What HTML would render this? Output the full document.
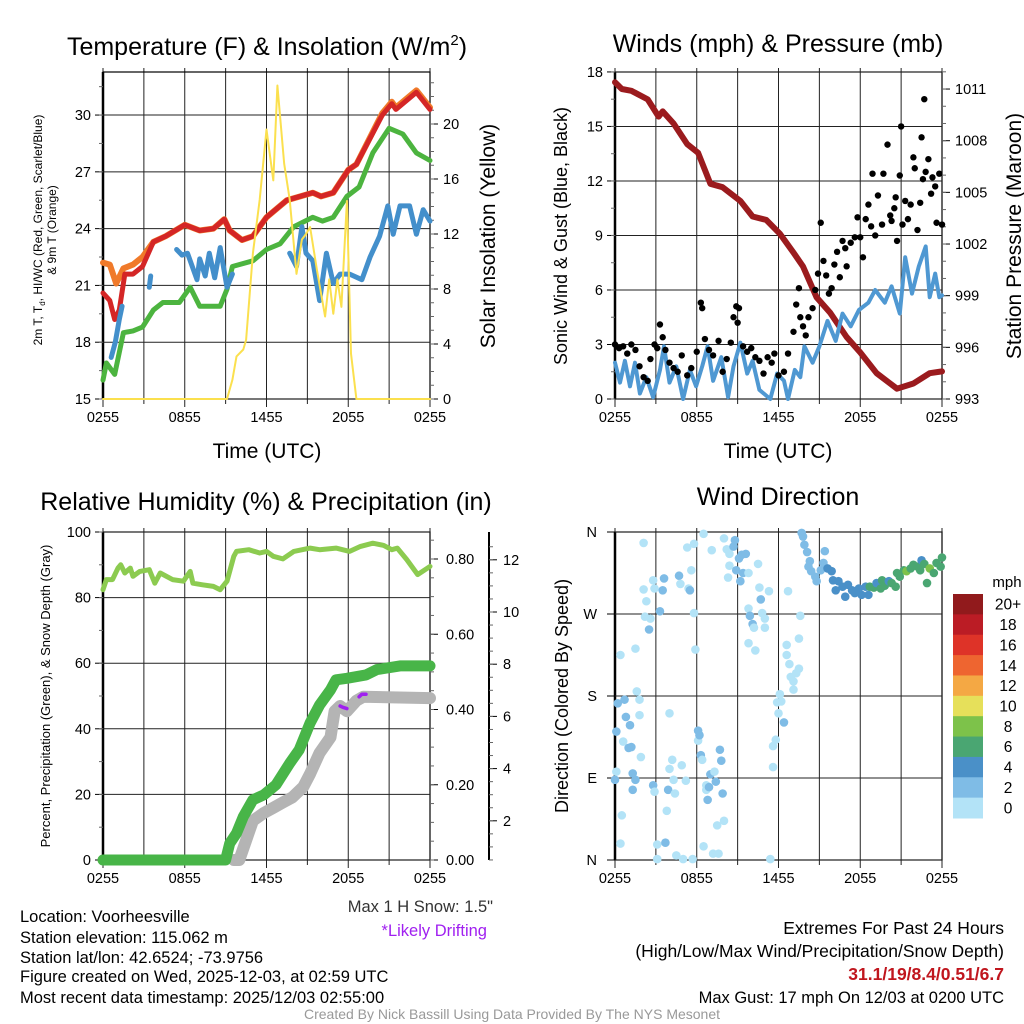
<!DOCTYPE html>
<html><head><meta charset="utf-8"><style>
html,body{margin:0;padding:0;background:#fff;}
svg{display:block;font-family:"Liberation Sans",Arial,sans-serif;}
</style></head><body>
<svg id="fig" width="1024" height="1024" viewBox="0 0 1024 1024" xmlns="http://www.w3.org/2000/svg">
<rect width="1024" height="1024" fill="#fff"/>
<g id="axes"></g>
<g id="marks"></g>
<g id="labels" font-size="13" fill="#000">
<text x="267" y="55" font-size="25" text-anchor="middle">Temperature (F) &amp; Insolation (W/m<tspan font-size="15" dy="-10">2</tspan><tspan dy="10">)</tspan></text>
<text x="778" y="52" font-size="25" text-anchor="middle">Winds (mph) &amp; Pressure (mb)</text>
<text x="266" y="510" font-size="25" text-anchor="middle">Relative Humidity (%) &amp; Precipitation (in)</text>
<text x="778" y="505" font-size="25" text-anchor="middle">Wind Direction</text>
<text transform="translate(42,230) rotate(-90)" font-size="12" text-anchor="middle">2m T, T<tspan font-size="8" dy="3">d</tspan><tspan dy="-3">, HI/WC (Red, Green, Scarlet/Blue)</tspan></text>
<text transform="translate(56,230) rotate(-90)" font-size="12" text-anchor="middle">&amp; 9m T (Orange)</text>
<text transform="translate(495,236) rotate(-90)" font-size="21" text-anchor="middle">Solar Insolation (Yellow)</text>
<text transform="translate(567,236) rotate(-90)" font-size="18" text-anchor="middle">Sonic Wind &amp; Gust (Blue, Black)</text>
<text transform="translate(1021,236) rotate(-90)" font-size="21" text-anchor="middle">Station Pressure (Maroon)</text>
<text transform="translate(50,696) rotate(-90)" font-size="13" text-anchor="middle">Percent, Precipitation (Green), &amp; Snow Depth (Gray)</text>
<text transform="translate(568,696) rotate(-90)" font-size="18" text-anchor="middle">Direction (Colored By Speed)</text>
<text x="267" y="458" font-size="21" text-anchor="middle">Time (UTC)</text>
<text x="778" y="458" font-size="21" text-anchor="middle">Time (UTC)</text>
<text x="1007" y="587" font-size="15" text-anchor="middle">mph</text>
<g font-size="16.5">
<text x="493" y="912" text-anchor="end" fill="#333">Max 1 H Snow: 1.5"</text>
<text x="487" y="936" text-anchor="end" fill="#a020f0">*Likely Drifting</text>
<text x="20" y="922">Location: Voorheesville</text>
<text x="20" y="943">Station elevation: 115.062 m</text>
<text x="20" y="963">Station lat/lon: 42.6524; -73.9756</text>
<text x="20" y="982">Figure created on Wed, 2025-12-03, at 02:59 UTC</text>
<text x="20" y="1003">Most recent data timestamp: 2025/12/03 02:55:00</text>
<text x="1004" y="934" text-anchor="end" font-size="17.5">Extremes For Past 24 Hours</text>
<text x="1004" y="957" text-anchor="end" font-size="17.5">(High/Low/Max Wind/Precipitation/Snow Depth)</text>
<text x="1004" y="980" text-anchor="end" fill="#c0161e" font-weight="bold" font-size="17.5">31.1/19/8.4/0.51/6.7</text>
<text x="1004" y="1003" text-anchor="end">Max Gust: 17 mph On 12/03 at 0200 UTC</text>
</g>
<text x="512" y="1019" font-size="14" text-anchor="middle" fill="#999">Created By Nick Bassill Using Data Provided By The NYS Mesonet</text>
</g>
</svg>
<script>
// ---------- data (t = hours since 02:55 UTC) ----------
const xTickLabels = ["0255","0855","1455","2055","0255"];
const tempTicks = [15,18,21,24,27,30];
const solTicks = [0,4,8,12,16,20];
const windTicks = [0,3,6,9,12,15,18];
const presTicks = [993,996,999,1002,1005,1008,1011];
const rhTicks = [0,20,40,60,80,100];
const precipTicks = [0,0.2,0.4,0.6,0.8];
const precipTickLabels = ["0.00","0.20","0.40","0.60","0.80"];
const snowTicks = [2,4,6,8,10,12];
const dirTickLabels = ["N","E","S","W","N"];
const dirTicks = [0,90,180,270,360];
const legendLabels = ["20+","18","16","14","12","10","8","6","4","2","0"];
const legendColors = ["#911a1c","#bb1c25","#de3328","#ee6530","#f4a844","#e6e05a","#7dc24a","#4aa672","#4a90c8","#7fbce6","#b3e3f7"];

const tempT = [0,0.5,0.86,1.2,1.6,2.2,2.9,3.7,4.6,6.0,7.1,8.1,8.9,9.3,10.2,11.0,12.0,13.5,15.4,16.0,16.9,18.0,18.6,20.5,21.2,21.5,23.0,24];
const tempV = [20.6,20.2,19.2,19.7,21.6,21.6,22.0,23.3,23.6,24.2,23.9,24.0,24.5,23.9,23.4,23.6,24.6,25.5,25.9,25.7,25.9,27.1,27.4,30.0,30.6,30.3,31.2,30.3];
const t9T = [0,0.5,0.97,1.5,2.2,2.9,3.7,4.6,6.0,7.1,8.1,8.9,9.3,10.2,11.0,12.0,13.5,15.4,16.0,16.9,18.0,18.6,20.5,21.2,21.5,23.0,24];
const t9V = [22.2,22.1,21.1,21.9,22.1,22.5,23.3,23.6,24.2,23.9,24.0,24.5,23.9,23.4,23.6,24.6,25.5,25.9,25.7,25.9,27.1,27.4,30.1,30.7,30.4,31.3,30.4];
const dewT = [0,0.25,0.86,1.5,2.2,2.9,3.7,4.4,5.6,6.4,7.1,8.6,9.1,9.5,11.0,12.0,13.0,14.0,15.4,16.1,16.9,17.9,18.8,19.8,21.0,22.0,23.0,24];
const dewV = [16.0,16.9,16.3,18.5,18.6,18.8,19.7,20.1,20.1,20.9,19.9,19.9,20.8,22.0,22.3,22.9,23.2,24.1,24.6,24.4,24.6,25.7,26.2,28.0,29.3,29.0,28.0,27.6];
const wcT = [0.6,0.9,1.2,1.4,null,3.4,3.5,null,5.4,5.8,6.2,6.9,7.1,7.5,7.8,8.2,8.6,9.1,9.5,null,13.7,14.2,14.6,14.9,15.4,15.9,16.4,16.9,17.4,18.1,19.0,19.6,20.3,20.9,21.3,21.8,22.5,23.0,23.5,24];
const wcV = [17.2,18.0,19.2,19.9,null,20.9,21.5,null,22.9,22.6,22.7,21.3,22.4,21.5,22.7,21.4,23.0,20.9,21.6,null,22.7,22.0,24.1,22.7,22.3,20.2,22.7,21.1,21.6,21.6,21.3,22.5,23.6,25.2,23.7,25.2,25.2,23.7,25.0,24.4];
const solT = [0,9.1,9.5,9.8,10.3,10.5,11.0,11.5,12.0,12.5,12.8,13.3,13.7,14.2,14.6,14.9,15.2,15.7,16.3,16.6,16.9,17.2,17.5,17.9,18.2,18.6,24];
const solV = [0,0,1.4,3.1,3.6,4.3,10.6,14.5,19.6,15.9,22.8,17.1,14.5,9.1,11.6,12.0,12.5,9.4,6.0,8.7,6.2,8.7,6.7,14.4,3.3,0,0];

const presT = [0,0.5,1.2,2.4,3.2,3.5,4.3,5.3,6.1,7.0,7.9,9.2,10.1,11.1,12.1,13.1,13.8,14.8,15.8,17.0,18.0,19.2,20.7,21.9,23.1,24];
const presV = [1011.4,1011.0,1010.9,1010.4,1009.4,1009.7,1009.0,1007.8,1007.3,1005.5,1005.3,1004.5,1003.6,1003.4,1002.6,1001.5,1000.7,998.9,998.0,996.6,995.7,994.5,993.6,993.9,994.5,994.6];
const windT = [0,0.37,0.73,1.1,1.47,1.83,2.3,2.8,3.3,3.6,4.0,4.5,5.0,5.5,5.95,6.4,6.8,7.2,7.8,8.3,8.7,9.2,9.7,10.1,10.6,11.4,11.9,12.4,12.7,13.2,13.6,13.9,14.5,15.0,15.6,16.2,16.7,17.3,17.9,18.6,19.1,19.8,20.3,20.9,21.3,21.8,22.3,22.8,23.1,23.5,23.8,24];
const windV = [2.0,0.9,2.1,0.7,2.0,0.3,1.2,0.1,1.6,2.9,0.9,1.8,0,1.6,0.7,1.8,2.9,1.0,2.3,0.1,1.8,3.1,1.4,2.1,0.5,0,1.4,1.0,0,1.6,1.2,2.9,2.0,2.9,4.3,3.2,4.7,4.0,4.9,5.3,6.0,5.3,6.2,4.7,7.8,5.8,7.3,8.4,5.6,6.9,5.6,5.7];
const gustT = [0,0.3,0.6,0.9,1.2,1.5,1.8,2.1,2.4,2.6,2.9,3.1,3.3,3.5,3.7,4.0,4.3,4.6,4.9,5.3,5.6,6.0,6.3,6.4,6.6,6.9,7.2,7.6,7.9,8.2,8.5,8.7,8.9,9.0,9.1,9.4,9.7,10.0,10.3,10.6,10.9,11.2,11.5,11.7,12.0,12.4,12.7,13.1,13.3,13.5,13.6,13.8,14.0,14.2,14.5,14.7,14.9,15.1,15.3,15.5,15.7,15.9,16.1,16.3,16.5,16.7,16.9,17.0,17.3,17.6,17.8,18.0,18.2,18.4,18.6,18.8,18.9,19.1,19.3,19.6,19.7,20.0,20.2,20.3,20.5,20.6,20.7,20.9,21.0,21.1,21.3,21.5,21.7,21.9,22.0,22.2,22.4,22.5,22.6,22.7,22.8,23.0,23.2,23.3,23.5,23.6,23.8,24.0];
const gustV = [3.0,2.8,2.9,2.5,3.0,2.7,1.8,1.2,1.0,2.2,3.0,2.8,4.1,3.4,2.7,2.0,1.7,1.5,2.4,1.3,1.7,2.6,5.3,5.0,3.3,2.7,2.4,3.2,1.5,2.2,3.1,4.5,5.1,4.2,5.0,2.9,2.6,2.8,2.3,2.1,1.4,2.3,2.0,2.5,1.3,1.5,2.5,3.7,5.2,6.1,4.5,4.0,3.5,4.5,5.0,6.0,6.9,9.7,7.6,6.8,5.8,6.1,7.4,8.1,6.7,8.7,8.3,7.3,8.6,8.9,10.0,8.9,7.8,9.9,10.7,9.5,12.4,9.0,11.2,9.6,12.4,14.0,10.1,9.8,10.5,11.1,8.7,12.3,15.0,9.6,10.9,9.9,10.7,13.3,12.7,9.3,10.8,14.4,12.1,16.5,12.5,13.2,11.3,12.2,11.7,9.7,12.4,9.6];

const rhT = [0,0.25,0.7,1.1,1.3,1.6,2.0,2.2,2.7,3.4,3.8,4.2,5.1,5.9,6.4,6.6,7.3,8.1,8.6,9.1,9.6,9.8,10.7,11.5,12.0,12.5,13.2,14.0,15.2,15.9,17.1,18.1,18.9,19.8,20.6,21.2,21.6,22.3,23.1,24];
const rhV = [82.4,85.5,85.5,89.0,90.0,87.5,89.0,86.5,88.0,88.5,84.4,87.5,85.5,85.0,88.0,84.4,83.9,83.4,82.4,85.0,92.6,94.1,94.6,93.6,94.1,92.6,91.8,94.1,95.1,94.6,95.1,94.1,95.6,96.6,95.9,94.6,95.1,91.6,87.0,89.5];
const precipT = [0,9.0,9.3,9.8,10.3,11.0,11.8,12.7,13.7,14.4,15.2,15.9,16.7,17.1,17.9,19.3,20.1,21.8,24];
const precipV = [0,0,0.044,0.071,0.115,0.16,0.173,0.2,0.257,0.293,0.364,0.412,0.452,0.479,0.483,0.492,0.506,0.516,0.516];
const snowT = [9.6,10.0,10.5,11.0,11.8,12.5,13.2,13.9,14.7,15.2,15.9,16.7,17.0,17.4,17.9,18.6,19.1,24];
const snowV = [0.5,0.5,1.25,2.0,2.3,2.5,2.7,2.9,3.3,3.8,4.6,5.2,6.2,6.4,6.2,6.6,6.75,6.7];
const driftAT = [17.4,17.6,17.9];
const driftAV = [6.4,6.35,6.3];
const driftBT = [18.8,19.0,19.3];
const driftBV = [6.75,6.85,6.85];

const dirT = [2.1,0.4,0,0.1,0.1,0.2,0.7,0.5,0.4,0.8,1.1,0.6,1.0,1.2,1.3,1.5,1.3,1.6,1.8,1.8,1.5,1.9,2.1,2.3,2.2,2.6,2.5,2.8,2.9,3.3,3.6,3.5,2.8,2.9,3.1,3.1,3.7,3.8,3.9,4.0,4.0,4.2,4.3,4.4,4.5,4.7,4.8,4.9,5.0,5.2,5.3,5.4,5.5,5.6,5.8,5.8,5.9,5.7,6.1,6.1,6.2,6.3,6.4,6.5,6.5,6.7,6.7,6.8,6.9,7.0,7.1,7.2,7.3,7.4,7.5,7.6,7.7,7.8,7.9,8.0,8.0,8.2,8.3,8.4,8.4,8.7,8.8,8.9,9.1,9.2,9.3,9.4,9.6,9.8,9.8,9.9,10.1,10.2,9.8,10.3,10.5,10.6,10.7,10.8,11.0,11.0,11.3,11.4,11.6,11.6,11.8,11.9,12.0,12.1,12.2,12.4,12.6,12.6,12.7,12.8,12.9,13.1,13.1,13.3,13.5,13.5,13.6,13.7,13.8,13.9,14.1,14.3,14.2,14.4,14.7,14.8,15.1,15.3,15.4,15.6,15.9,16.0,16.2,16.4,16.7,16.9,17.1,17.4,17.6,17.9,18.1,18.4,18.6,18.7,19.0,19.2,19.5,19.6,19.8,20.1,20.3,20.6,20.7,20.9,21.2,21.4,21.7,21.9,22.2,22.4,22.5,22.7,22.9,23.1,23.4,23.6,23.9,24];
const dirV = [348,225,88,97,141,172,176,49,18,157,148,130,123,124,95,88,77,185,176,159,232,113,297,284,267,265,253,307,298,273,309,296,82,75,17,1,19,54,77,161,100,110,88,73,5,312,303,104,1,87,343,298,296,318,347,271,231,1,131,142,137,115,110,15,358,82,77,66,80,94,340,7,97,86,38,7,121,109,73,43,353,341,310,323,336,344,351,318,331,306,335,315,336,315,276,268,259,255,238,230,325,299,286,271,265,255,295,1,102,125,132,173,161,182,174,151,236,225,295,215,201,196,187,205,210,243,268,359,355,346,338,328,322,317,311,306,318,326,339,320,317,307,296,306,300,289,302,296,293,298,291,300,291,300,299,304,298,307,301,306,304,300,315,311,318,317,320,324,322,318,329,325,304,320,315,326,322,332];
const dirS = [1,1,3,1,3,3,3,1,1,3,3,1,3,3,3,3,3,1,1,1,1,1,1,1,1,1,3,1,1,3,3,3,3,1,1,1,3,1,3,1,1,1,1,1,1,3,1,1,1,1,1,1,3,1,1,1,1,1,1,3,3,3,1,1,1,1,1,3,3,3,1,1,1,3,1,1,3,3,3,1,1,1,1,1,1,3,3,3,3,3,3,3,3,1,1,3,3,1,1,1,1,1,3,1,1,1,1,1,1,1,1,1,1,1,1,3,1,1,1,1,1,1,1,1,1,1,1,3,3,3,3,3,3,3,3,3,3,3,3,5,5,5,5,5,5,5,5,5,5,5,5,5,5,7,7,5,7,7,7,5,7,7,7,7,7,9,7,7,7,7,5,7,7,9,7,7,7,7];

// ---------- helpers ----------
const NS = "http://www.w3.org/2000/svg";
const axesG = document.getElementById('axes');
const marksG = document.getElementById('marks');
function mk(tag, attrs, parent){const e=document.createElementNS(NS,tag);for(const k in attrs)e.setAttribute(k,attrs[k]);(parent||axesG).appendChild(e);return e;}
function linePath(T,V,fx,fy){let d="",pen=false;for(let i=0;i<T.length;i++){if(T[i]===null||V[i]===null){pen=false;continue;}d+=(pen?"L":"M")+fx(T[i]).toFixed(1)+","+fy(V[i]).toFixed(1);pen=true;}return d;}

function panelFrame(x0,x1,y0,y1,xLabels,name){
  for(let h=0;h<=24;h+=3){const x=x0+h/24*(x1-x0);
    const g=mk('line',{x1:x,x2:x,y1:y0-4,y2:y1+(h%6===0?8:5),stroke:'#222','stroke-width':1});
    
    
  }
  for(let i=0;i<xLabels.length;i++){const x=x0+i*6/24*(x1-x0);
    const t=mk('text',{x:x,y:y1+23,'font-size':14.5,'text-anchor':'middle'});t.textContent=xLabels[i];
    
    
  }
  const b=mk('rect',{x:x0,y:y0,width:x1-x0,height:y1-y0,fill:'none',stroke:'#000','stroke-width':1.2});
  
  
  const l=mk('line',{x1:x0,x2:x0,y1:y0,y2:y1,stroke:'#000','stroke-width':2.5});
  
  
}
function yAxis(ticks,labels,fy,x,side,x0,x1,grid,minorStep,lo,hi,name,lx){
  for(let i=0;i<ticks.length;i++){const y=fy(ticks[i]);
    if(grid){const g=mk('line',{x1:x0,x2:x1,y1:y,y2:y,stroke:'#222','stroke-width':1});
      
      }
    const tk=mk('line',{x1:x,x2:x+side*8,y1:y,y2:y,stroke:'#000','stroke-width':1});
    
    
    const t=mk('text',{x:lx,y:y+5,'font-size':14.5,'text-anchor':side<0?'end':'start'});t.textContent=labels[i];
    
    
  }
  if(minorStep){for(let v=lo;v<=hi+1e-9;v+=minorStep){const y=fy(v);
    const m=mk('line',{x1:x,x2:x+side*4,y1:y,y2:y,stroke:'#666','stroke-width':1});
    
    }}
}
function series(d,color,w,name,opts){
  const p=mk('path',Object.assign({d:d,fill:'none',stroke:color,'stroke-width':w,'stroke-linejoin':'round','stroke-linecap':'round'},opts||{}),marksG);
  
  
  return p;
}

// ---------- Panel 1 ----------
(function(){
  const x0=103,x1=430,y0=72,y1=399;
  const fx=t=>x0+t/24*(x1-x0);
  const fT=v=>399-(v-15)*18.93;
  const fS=v=>399-v*13.75;
  panelFrame(x0,x1,y0,y1,xTickLabels,'temp-panel');
  yAxis(tempTicks,tempTicks.map(String),fT,x0,-1,x0,x1,true,1.5,15,31.5,'temp-axis',x0-12);
  yAxis(solTicks,solTicks.map(String),fS,x1,1,x0,x1,false,1,0,23,'insolation-axis',x1+13);
  series(linePath(t9T,t9V,fx,fT),'#f07a2a',6,'9m-temp-line');
  series(linePath(tempT,tempV,fx,fT),'#d42626',5,'2m-temp-line');
  series(linePath(dewT,dewV,fx,fT),'#4cb43f',5,'dewpoint-line');
  series(linePath(wcT,wcV,fx,fT),'#438fcb',5,'windchill-line');
  series(linePath(solT,solV,fx,fS),'#fbe04e',2,'insolation-line');
})();

// ---------- Panel 2 ----------
(function(){
  const x0=615,x1=942,y0=72,y1=399;
  const fx=t=>x0+t/24*(x1-x0);
  const fW=v=>399-v*18.17;
  const fP=v=>399-(v-993)*17.22;
  panelFrame(x0,x1,y0,y1,xTickLabels,'wind-panel');
  yAxis(windTicks,windTicks.map(String),fW,x0,-1,x0,x1,true,1.5,0,18,'wind-axis',x0-12);
  yAxis(presTicks,presTicks.map(String),fP,x1,1,x0,x1,false,1,993,1012,'pressure-axis',x1+13);
  series(linePath(presT,presV,fx,fP),'#9b1b1e',6,'pressure-line');
  series(linePath(windT,windV,fx,fW),'#4f98d2',4,'wind-speed-line');
  for(let i=0;i<gustT.length;i++){
    const c=mk('circle',{cx:fx(gustT[i]),cy:fW(gustV[i]),r:3.2,fill:'#000'},marksG);
    
    
  }
})();

// ---------- Panel 3 ----------
(function(){
  const x0=103,x1=430,y0=532,y1=860;
  const fx=t=>x0+t/24*(x1-x0);
  const fR=v=>860-v*3.28;
  const fPr=v=>860-v*376.25;
  const fSn=v=>873-v*26.1;
  panelFrame(x0,x1,y0,y1,xTickLabels,'humidity-panel');
  yAxis(rhTicks,rhTicks.map(String),fR,x0,-1,x0,x1,true,10,0,100,'humidity-axis',x0-12);
  yAxis(precipTicks,precipTickLabels,fPr,x1,1,x0,x1,false,0.05,0,0.85,'precip-axis',x1+16);
  const sa=mk('line',{x1:489,x2:489,y1:y0,y2:y1,stroke:'#000','stroke-width':2});
  
  
  yAxis(snowTicks,snowTicks.map(String),fSn,489,1,0,0,false,0.5,0.5,12.5,'snow-axis',503);
  series(linePath(rhT,rhV,fx,fR),'#8ccb50',5,'humidity-line');
  series(linePath(snowT,snowV,fx,fSn),'#b4b4b4',12,'snow-depth-line');
  series(linePath(precipT,precipV,fx,fPr),'#48b548',11,'precip-line');
  series(linePath(driftAT,driftAV,fx,fSn),'#a020f0',3.5,'drift-segment-a');
  series(linePath(driftBT,driftBV,fx,fSn),'#a020f0',3.5,'drift-segment-b');
})();

// ---------- Panel 4 ----------
(function(){
  const x0=615,x1=942,y0=532,y1=860;
  const fx=t=>x0+t/24*(x1-x0);
  const fD=v=>860-v*328/360;
  panelFrame(x0,x1,y0,y1,xTickLabels,'direction-panel');
  yAxis(dirTicks,dirTickLabels,fD,x0,-1,x0,x1,true,0,0,0,'direction-axis',x0-18);
  for(let i=0;i<dirT.length;i++){
    const bin=Math.min(10,Math.floor(dirS[i]/2));
    const c=mk('circle',{cx:fx(dirT[i]),cy:fD(dirV[i]),r:4.3,fill:legendColors[10-bin]},marksG);
    
    
  }
  const bh=224/11;
  for(let i=0;i<legendColors.length;i++){
    const r=mk('rect',{x:953,y:594+i*bh,width:30,height:bh+0.5,fill:legendColors[i]});
    
    
    const t=mk('text',{x:1008,y:594+i*bh+bh/2+5.5,'font-size':15.5,'text-anchor':'middle'});t.textContent=legendLabels[i];
    
    
  }
})();
</script>
</body></html>
